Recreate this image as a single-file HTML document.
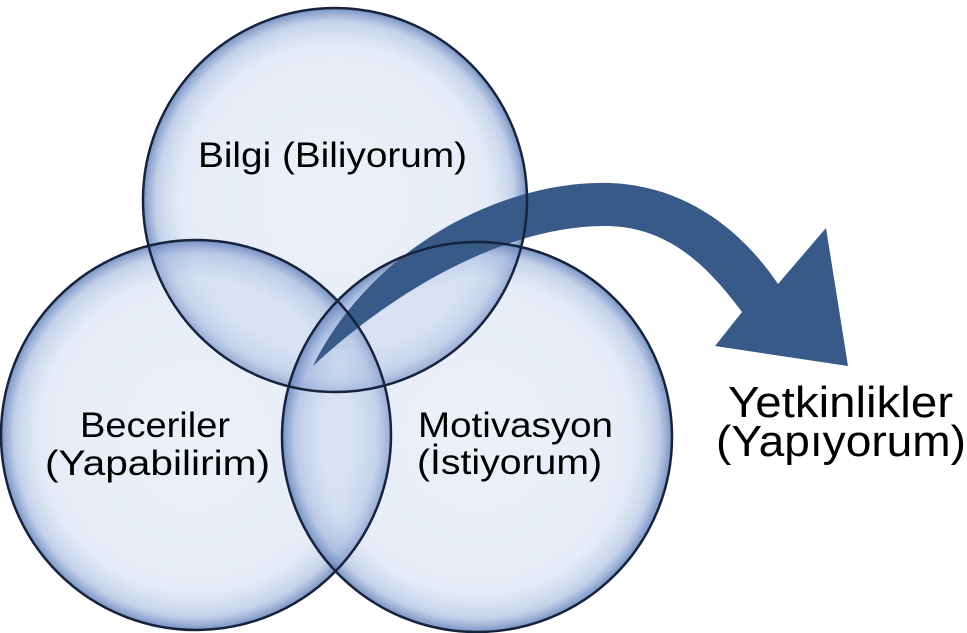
<!DOCTYPE html>
<html><head><meta charset="utf-8"><style>
html,body{margin:0;padding:0;background:#fff;}
svg{display:block;}
text{font-family:"Liberation Sans","DejaVu Sans",sans-serif;fill:#000;}
</style></head><body>
<svg width="967" height="633" viewBox="0 0 967 633" xmlns="http://www.w3.org/2000/svg">
<defs>
<radialGradient id="g" cx="50%" cy="50%" r="50%">
<stop offset="0" stop-color="#c9d6ee" stop-opacity="0.35"/>
<stop offset="0.8" stop-color="#c4d2ec" stop-opacity="0.42"/>
<stop offset="0.93" stop-color="#9db3dc" stop-opacity="0.6"/>
<stop offset="1" stop-color="#5f7fb8" stop-opacity="0.85"/>
</radialGradient>
</defs>
<circle cx="335" cy="200" r="192" fill="url(#g)"/>
<circle cx="196" cy="435" r="195" fill="url(#g)"/>
<circle cx="477" cy="437" r="195" fill="url(#g)"/>
<path d="M313,366 C370,250 500,180 610,183 C690,186 745,235 778,284 L826,228 L848,366 L715,346 L742,312 C705,262 665,226 605,226 C510,226 400,285 313,366 Z" fill="#375a89"/>
<g fill="none" stroke="#17233d" stroke-width="2.5">
<circle cx="335" cy="200" r="192"/>
<circle cx="196" cy="435" r="195"/>
<circle cx="477" cy="437" r="195"/>
</g>
<text x="198" y="167" font-size="35" textLength="269" lengthAdjust="spacingAndGlyphs">Bilgi (Biliyorum)</text>
<text x="80" y="437" font-size="35" textLength="150" lengthAdjust="spacingAndGlyphs">Beceriler</text>
<text x="45" y="475" font-size="35" textLength="225" lengthAdjust="spacingAndGlyphs">(Yapabilirim)</text>
<text x="418" y="437" font-size="35" textLength="195" lengthAdjust="spacingAndGlyphs">Motivasyon</text>
<text x="417" y="474" font-size="35" textLength="185" lengthAdjust="spacingAndGlyphs">(İstiyorum)</text>
<text x="728" y="417" font-size="44" textLength="225" lengthAdjust="spacingAndGlyphs">Yetkinlikler</text>
<text x="716" y="456" font-size="44" textLength="250" lengthAdjust="spacingAndGlyphs">(Yapıyorum)</text>
</svg>
</body></html>
